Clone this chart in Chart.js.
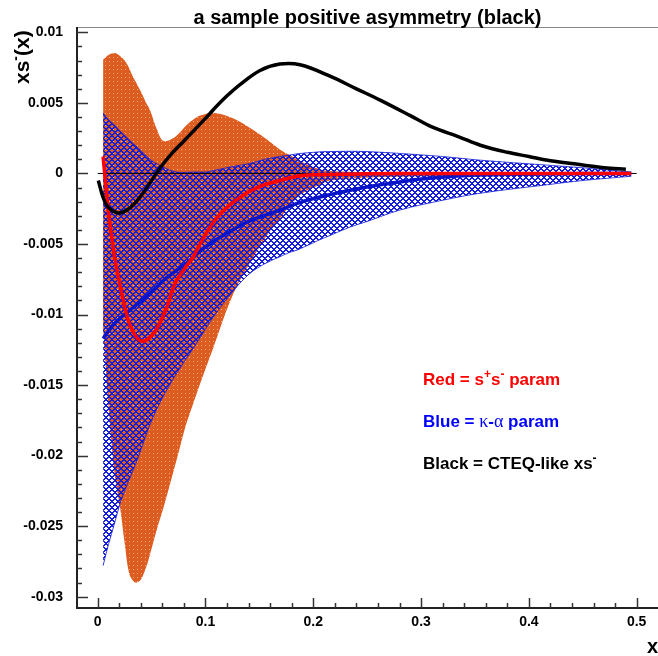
<!DOCTYPE html>
<html>
<head>
<meta charset="utf-8">
<script src="https://cdn.jsdelivr.net/npm/chart.js@4/dist/chart.umd.min.js"></script>
<style>
  body { margin: 0; background: #fff; }
  #wrap { width: 658px; height: 656px; }
</style>
</head>
<body>
<div id="wrap"><canvas id="c"></canvas></div>
<script>
// --- data ---
const blackX = [0.0006, 0.005, 0.0098, 0.019, 0.027, 0.0346, 0.042, 0.05, 0.058, 0.0686, 0.08, 0.09, 0.1, 0.107, 0.12, 0.132, 0.1506, 0.169, 0.1877, 0.2155, 0.24, 0.262, 0.29, 0.31, 0.335, 0.355, 0.38, 0.4, 0.42, 0.45, 0.47, 0.49];
const blackY = [-0.0005, -0.0017, -0.0024, -0.0028, -0.0026, -0.0021, -0.0014, -0.0005, 0.0004, 0.0014, 0.0023, 0.0031, 0.0039, 0.0045, 0.0055, 0.0063, 0.0073, 0.00775, 0.0077, 0.0069, 0.0060, 0.0052, 0.0041, 0.0033, 0.0026, 0.0020, 0.0015, 0.0012, 0.0009, 0.0006, 0.0004, 0.0003];

const redX = [0.005, 0.0075, 0.0098, 0.013, 0.016, 0.0223, 0.0284, 0.035, 0.0423, 0.05, 0.0562, 0.064, 0.0717, 0.08, 0.0887, 0.095, 0.107, 0.12, 0.138, 0.155, 0.169, 0.185, 0.2, 0.25, 0.3, 0.4, 0.495];
const redY = [0.0012, -0.0008, -0.0026, -0.0045, -0.0061, -0.0085, -0.0104, -0.0115, -0.0119, -0.0115, -0.0108, -0.0095, -0.0078, -0.0068, -0.0059, -0.0050, -0.0035, -0.0024, -0.0014, -0.0008, -0.0005, -0.0002, -0.0001, -0.00003, 0, 0, 0];

const blueX = [0.005, 0.016, 0.033, 0.044, 0.064, 0.085, 0.095, 0.11, 0.123, 0.14, 0.169, 0.19, 0.2155, 0.24, 0.262, 0.28, 0.3, 0.324, 0.36, 0.4, 0.45, 0.495];
const blueY = [-0.0117, -0.0106, -0.0095, -0.0088, -0.0074, -0.0062, -0.0055, -0.0047, -0.0041, -0.0034, -0.0026, -0.0020, -0.0015, -0.0011, -0.0008, -0.0006, -0.0004, -0.00024, -0.0001, -0.00005, 0, 0];

// red (s+s-) uncertainty band
const orangeX = [0.005, 0.010, 0.016, 0.021, 0.025, 0.029, 0.033, 0.036, 0.040, 0.045, 0.0485, 0.055, 0.061, 0.07, 0.0763, 0.082, 0.09, 0.095, 0.107, 0.126, 0.144, 0.157, 0.169, 0.178, 0.19, 0.206, 0.2155, 0.25, 0.3, 0.35, 0.4, 0.45, 0.495];
const orangeHi = [0.00807, 0.0084, 0.00854, 0.0083, 0.0080, 0.0075, 0.0068, 0.0064, 0.0058, 0.0050, 0.0045, 0.0031, 0.0023, 0.0025, 0.0029, 0.0034, 0.0039, 0.0041, 0.0043, 0.0039, 0.0031, 0.0024, 0.0017, 0.0013, 0.0008, 0.0003, 0.00018, 0.0001, 0.00008, 0.00006, 0.00004, 0.00002, 0];
const orangeLo = [-0.011, -0.0165, -0.0215, -0.0238, -0.0262, -0.0283, -0.0289, -0.0290, -0.0288, -0.0279, -0.0270, -0.0252, -0.0237, -0.0212, -0.0194, -0.0178, -0.0160, -0.0149, -0.0124, -0.0085, -0.0060, -0.0044, -0.0032, -0.0023, -0.0014, -0.0008, -0.0005, -0.0003, -0.0002, -0.00015, -0.0001, -0.00005, 0];

// kappa-alpha uncertainty band
const bandX = [0.005, 0.010, 0.016, 0.0207, 0.025, 0.033, 0.0377, 0.0485, 0.0594, 0.073, 0.0903, 0.101, 0.107, 0.126, 0.141, 0.155, 0.169, 0.178, 0.186, 0.206, 0.2155, 0.234, 0.25, 0.28, 0.32, 0.355, 0.417, 0.45, 0.495];
const bandHi = [0.00429, 0.0038, 0.0034, 0.0030, 0.0027, 0.0021, 0.0018, 0.0010, 0.0005, 0.0001, 0.0001, 0.0001, 0.0002, 0.0005, 0.0007, 0.0010, 0.0012, 0.0013, 0.0014, 0.00153, 0.00155, 0.00157, 0.00155, 0.00142, 0.0012, 0.00094, 0.00059, 0.0004, 0.0001];
const bandLo = [-0.0278, -0.0263, -0.0247, -0.0234, -0.0225, -0.0210, -0.0201, -0.0178, -0.0160, -0.0142, -0.0122, -0.0109, -0.0102, -0.0083, -0.0071, -0.0064, -0.0059, -0.0056, -0.0054, -0.0047, -0.0044, -0.0038, -0.0034, -0.0026, -0.0019, -0.0014, -0.0008, -0.0005, -0.0002];

const zeroX = [0, 0.5];
const zeroY = [0, 0];

const xTicksMinor = [0.02, 0.04, 0.06, 0.08, 0.12, 0.14, 0.16, 0.18, 0.22, 0.24, 0.26, 0.28, 0.32, 0.34, 0.36, 0.38, 0.42, 0.44, 0.46, 0.48];

const pts = (xs, ys) => xs.map((x, i) => ({ x: x, y: ys[i] }));
const FONT = '"Liberation Sans", Arial, sans-serif';

// pixel tiles for the two fill styles
function tile(size, paint) {
  const c = document.createElement('canvas');
  c.width = size; c.height = size;
  const g = c.getContext('2d');
  const img = g.createImageData(size, size);
  for (let j = 0; j < size; j++) {
    for (let i = 0; i < size; i++) {
      const col = paint(i, j);
      const k = (j * size + i) * 4;
      img.data[k] = col[0]; img.data[k + 1] = col[1]; img.data[k + 2] = col[2]; img.data[k + 3] = col[3];
    }
  }
  g.putImageData(img, 0, 0);
  return g.createPattern(c, 'repeat');
}

const orangeFill = tile(4, (i, j) => (i === 1 && j === 1) ? [240, 180, 140, 255] : [222, 92, 32, 255]);
const blueFill = tile(6, (i, j) => ((i + j) % 6 < 2 || (i - j + 6) % 6 < 2) ? [20, 30, 215, 255] : [0, 0, 0, 0]);

// draw a row of text pieces (for superscripts / greek letters)
function rich(ctx, parts, x, y) {
  ctx.textBaseline = 'alphabetic';
  ctx.textAlign = 'left';
  parts.forEach(p => {
    ctx.font = p.font;
    ctx.fillText(p.t, x, y + (p.dy || 0));
    x += ctx.measureText(p.t).width;
  });
}

const decor = {
  id: 'decor',
  afterDraw(chart) {
    const ctx = chart.ctx;
    const a = chart.chartArea;
    const xs = chart.scales.x, ys = chart.scales.y;
    ctx.save();

    // frame
    ctx.strokeStyle = '#888';
    ctx.lineWidth = 1;
    ctx.beginPath(); ctx.moveTo(a.left, a.top + 0.5); ctx.lineTo(a.right, a.top + 0.5); ctx.stroke();
    ctx.strokeStyle = '#222';
    ctx.lineWidth = 2;
    ctx.beginPath();
    ctx.moveTo(a.left, a.top); ctx.lineTo(a.left, a.bottom); ctx.lineTo(a.right, a.bottom);
    ctx.stroke();

    // y ticks (inward)
    ctx.lineWidth = 1.5;
    ctx.strokeStyle = '#333';
    for (let k = -30; k <= 10; k++) {
      const py = Math.round(ys.getPixelForValue(k / 1000)) + 0.5;
      const len = k % 5 === 0 ? 11 : 5;
      ctx.beginPath(); ctx.moveTo(a.left, py); ctx.lineTo(a.left + len, py); ctx.stroke();
    }
    // x ticks
    [0, 0.1, 0.2, 0.3, 0.4, 0.5].forEach(v => {
      const px = Math.round(xs.getPixelForValue(v)) + 0.5;
      ctx.beginPath(); ctx.moveTo(px, a.bottom); ctx.lineTo(px, a.bottom - 10); ctx.stroke();
    });
    xTicksMinor.forEach(v => {
      const px = Math.round(xs.getPixelForValue(v)) + 0.5;
      ctx.beginPath(); ctx.moveTo(px, a.bottom); ctx.lineTo(px, a.bottom - 5); ctx.stroke();
    });

    ctx.fillStyle = '#000';
    // title
    ctx.font = 'bold 20px ' + FONT;
    ctx.textAlign = 'center';
    ctx.textBaseline = 'alphabetic';
    ctx.fillText('a sample positive asymmetry (black)', (a.left + a.right) / 2, 24);

    // x axis title
    ctx.font = 'bold 20px ' + FONT;
    ctx.textAlign = 'right';
    ctx.fillText('x', 658, 653);

    // y axis title, rotated
    ctx.save();
    ctx.translate(29, 84);
    ctx.rotate(-Math.PI / 2);
    rich(ctx, [
      { t: 'xs', font: 'bold 21px ' + FONT },
      { t: '-', font: 'bold 14px ' + FONT, dy: -9 },
      { t: '(x)', font: 'bold 21px ' + FONT }
    ], 0, 0);
    ctx.restore();

    // legend texts
    const b17 = 'bold 17px ' + FONT;
    const sup = 'bold 12px ' + FONT;
    ctx.fillStyle = '#ff0000';
    rich(ctx, [
      { t: 'Red = s', font: b17 },
      { t: '+', font: sup, dy: -7 },
      { t: 's', font: b17 },
      { t: '-', font: sup, dy: -7 },
      { t: ' param', font: b17 }
    ], 423, 385);
    ctx.fillStyle = '#0000ff';
    rich(ctx, [
      { t: 'Blue = ', font: b17 },
      { t: '\u03BA', font: '18px "Liberation Serif", serif' },
      { t: '-', font: b17 },
      { t: '\u03B1', font: '18px "Liberation Serif", serif' },
      { t: ' param', font: b17 }
    ], 423, 427);
    ctx.fillStyle = '#000';
    rich(ctx, [
      { t: 'Black = CTEQ-like xs', font: b17 },
      { t: '-', font: sup, dy: -7 }
    ], 423, 469);

    ctx.restore();
  }
};

const lineDs = (xs, ys, color, width) => ({
  data: pts(xs, ys),
  borderColor: color,
  borderWidth: width,
  pointRadius: 0,
  fill: false,
  tension: 0.35
});

new Chart(document.getElementById('c'), {
  type: 'line',
  data: {
    datasets: [
      lineDs(blackX, blackY, '#000000', 3.5),
      lineDs(redX, redY, '#ff0000', 3.5),
      lineDs(blueX, blueY, '#0a14c8', 3.5),
      Object.assign(lineDs(zeroX, zeroY, '#000000', 1), { tension: 0 }),
      Object.assign(lineDs(bandX, bandHi, 'rgba(20,30,220,0.8)', 1), { fill: '+1', backgroundColor: blueFill }),
      lineDs(bandX, bandLo, 'rgba(20,30,220,0.8)', 1),
      Object.assign(lineDs(orangeX, orangeHi, 'rgba(0,0,0,0)', 0), { fill: '+1', backgroundColor: orangeFill }),
      lineDs(orangeX, orangeLo, 'rgba(0,0,0,0)', 0)
    ]
  },
  options: {
    responsive: true,
    maintainAspectRatio: false,
    animation: false,
    layout: { padding: { top: 27, right: 0, left: 0, bottom: 0 } },
    plugins: {
      legend: { display: false },
      tooltip: { enabled: false },
      title: { display: false }
    },
    scales: {
      x: {
        type: 'linear',
        min: -0.0192,
        max: 0.5198,
        grid: { display: false, drawTicks: false },
        border: { display: false },
        ticks: {
          stepSize: 0.1,
          includeBounds: false,
          autoSkip: false,
          maxRotation: 0,
          padding: 6,
          color: '#000',
          font: { family: FONT, size: 14, weight: 'bold' },
          callback: v => String(+v.toFixed(2))
        },
        afterFit: s => { s.height = 48; }
      },
      y: {
        min: -0.0308,
        max: 0.01038,
        grid: { display: false, drawTicks: false },
        border: { display: false },
        ticks: {
          stepSize: 0.005,
          includeBounds: false,
          autoSkip: false,
          padding: 14,
          color: '#000',
          font: { family: FONT, size: 14, weight: 'bold' },
          callback: v => String(+v.toFixed(3))
        },
        afterFit: s => { s.width = 77; }
      }
    }
  },
  plugins: [decor]
});
</script>
</body>
</html>
